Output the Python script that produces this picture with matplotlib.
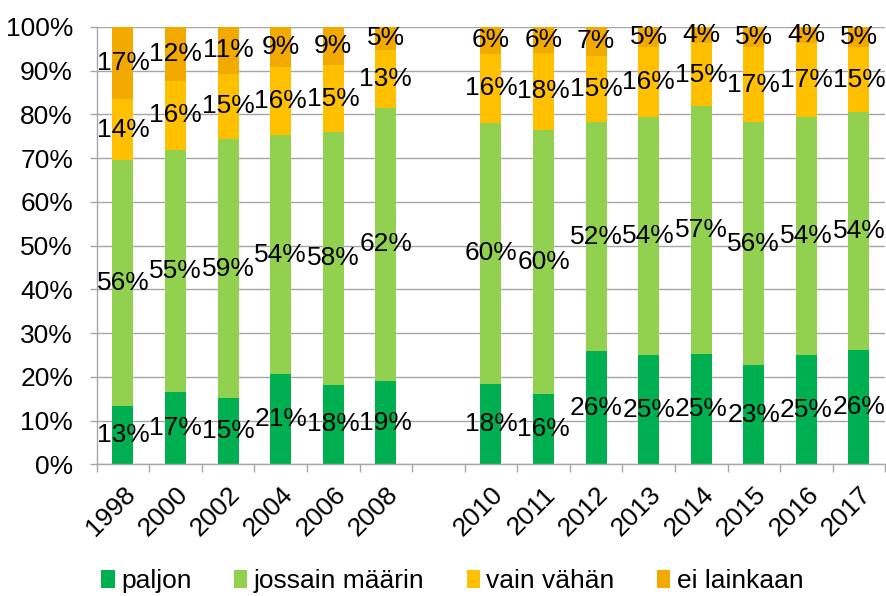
import numpy as np
import matplotlib
matplotlib.use("Agg")
import matplotlib.pyplot as plt
from matplotlib.ticker import FixedLocator

plt.rcParams['font.family'] = ['Liberation Sans', 'DejaVu Sans']

# Categories (empty string = gap between the two series of years)
years = ['1998', '2000', '2002', '2004', '2006', '2008', '',
         '2010', '2011', '2012', '2013', '2014', '2015', '2016', '2017']

# Shares in percent (nan = gap)
paljon = [13.3, 16.6, 15.1, 20.7, 18.2, 19.1, np.nan,
          18.4, 16.1, 25.8, 24.9, 25.1, 22.6, 24.9, 26.0]
jossain = [56.4, 55.4, 59.3, 54.4, 57.7, 62.4, np.nan,
           59.7, 60.3, 52.4, 54.4, 56.7, 55.7, 54.4, 54.4]
vain = [13.8, 15.8, 14.8, 15.6, 15.3, 13.3, np.nan,
        15.7, 17.7, 15.2, 16.0, 14.6, 17.0, 16.8, 14.9]
ei = [16.6, 12.3, 10.8, 9.2, 8.8, 5.2, np.nan,
      6.2, 5.9, 6.6, 4.6, 3.6, 4.7, 3.8, 4.6]

series_names = ['paljon', 'jossain määrin', 'vain vähän', 'ei lainkaan']
colors = ['#00B050', '#92D050', '#FFC000', '#F2A900']


def main():
    data = np.array([paljon, jossain, vain, ei])
    totals = np.nansum(data, axis=0)
    totals[totals == 0] = 1
    shares = data / totals * 100  # 100% stacked, like Excel

    fig, ax = plt.subplots(figsize=(8.87, 5.96), dpi=100)
    fig.subplots_adjust(left=0.109, right=0.998, top=0.955, bottom=0.221)

    fs = 19
    x = np.arange(len(years))
    bottom = np.zeros(len(years))
    for i, name in enumerate(series_names):
        h = np.nan_to_num(shares[i])
        ax.bar(x, h, 0.4, bottom=bottom, color=colors[i], label=name, zorder=2)
        # value labels in the middle of each segment
        for j in range(len(years)):
            if np.isnan(data[i, j]):
                continue
            ax.text(x[j], bottom[j] + h[j] / 2, f"{int(data[i, j] + 0.5)}%",
                    ha='center', va='center', fontsize=fs, color='black',
                    zorder=3, clip_on=False)
        bottom += h

    ax.set_xlim(-0.5, len(years) - 0.5)
    ax.set_ylim(0, 100)
    ax.set_yticks(np.arange(0, 101, 10))
    ax.set_yticklabels([f"{v}%" for v in range(0, 101, 10)], fontsize=fs)
    ax.yaxis.grid(True, color='#A6A6A6', linewidth=1.0, zorder=0)
    ax.set_axisbelow(True)

    ax.set_xticks(x)
    ax.set_xticklabels(years, rotation=45, ha='right', rotation_mode='anchor',
                       fontsize=fs)
    ax.xaxis.set_minor_locator(FixedLocator(np.arange(-0.5, len(years), 1)))
    ax.tick_params(axis='x', which='major', length=0, pad=13)
    ax.tick_params(axis='x', which='minor', length=6, color='#A6A6A6', width=1)
    ax.tick_params(axis='y', length=5, color='#A6A6A6', width=1, pad=12)

    for side in ['top', 'right']:
        ax.spines[side].set_visible(False)
    for side in ['left', 'bottom']:
        ax.spines[side].set_color('#A6A6A6')
        ax.spines[side].set_linewidth(1.0)

    fig.legend(loc='lower center', bbox_to_anchor=(0.51, -0.035), ncol=4,
               frameon=False, fontsize=fs, handlelength=0.5, handleheight=0.65,
               handletextpad=0.25, columnspacing=1.6)

    fig.savefig('out.png', dpi=100)


if __name__ == "__main__":
    main()
